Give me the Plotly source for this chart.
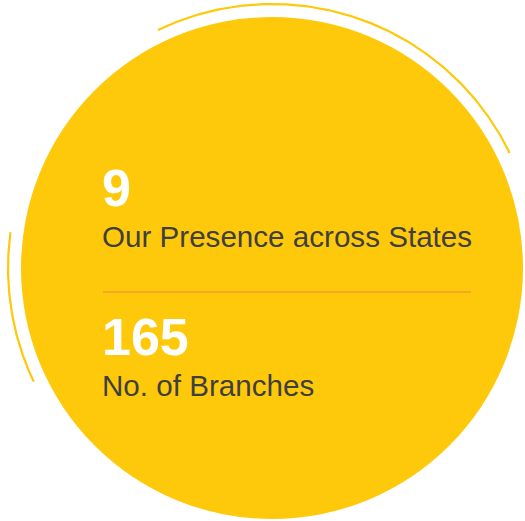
import numpy as np
import plotly.graph_objects as go

# ---- data ----
values = ["9", "165"]
labels = ["Our Presence across States", "No. of Branches"]

# ---- style / geometry ----
W, H = 525, 521
CX, CY, R = 272, 268, 251
ARC_R = 264
YELLOW = "#FFC90B"
TEXT_GREY = "#3F3F3F"
LINE_ORANGE = "#F39A2C"

fig = go.Figure()

# main circle
fig.add_shape(type="circle", xref="x", yref="y",
              x0=CX - R, x1=CX + R, y0=CY - R, y1=CY + R,
              fillcolor=YELLOW, line=dict(width=0), layer="below")

# decorative arcs (angles in degrees, math convention)
for a0, a1 in [(25.8, 115.6), (172.2, 205.5)]:
    t = np.radians(np.linspace(a0, a1, 200))
    fig.add_trace(go.Scatter(x=CX + ARC_R * np.cos(t), y=CY - ARC_R * np.sin(t),
                             mode="lines", line=dict(color=YELLOW, width=2.2),
                             hoverinfo="skip", showlegend=False))

# divider
fig.add_shape(type="line", xref="x", yref="y", x0=103, x1=471, y0=292, y1=292,
              line=dict(color=LINE_ORANGE, width=1.4))

num_y = [188, 337]
lab_y = [236, 385]
for v, l, ny, ly in zip(values, labels, num_y, lab_y):
    fig.add_annotation(x=100, y=ny, xref="x", yref="y", text="<b>%s</b>" % v,
                       showarrow=False, xanchor="left", yanchor="middle",
                       font=dict(family="Liberation Sans, Arial", size=52, color="white"))
    fig.add_annotation(x=100, y=ly, xref="x", yref="y", text=l,
                       showarrow=False, xanchor="left", yanchor="middle",
                       font=dict(family="Liberation Sans, Arial", size=29.6, color=TEXT_GREY))

fig.update_layout(width=W, height=H, autosize=False,
                  margin=dict(l=0, r=0, t=0, b=0),
                  paper_bgcolor="white", plot_bgcolor="white",
                  xaxis=dict(range=[0, W], visible=False, fixedrange=True),
                  yaxis=dict(range=[H, 0], visible=False, fixedrange=True),
                  showlegend=False)

fig.write_html("out.html", config={"displayModeBar": False},
               post_script="document.body.style.margin='0';")
